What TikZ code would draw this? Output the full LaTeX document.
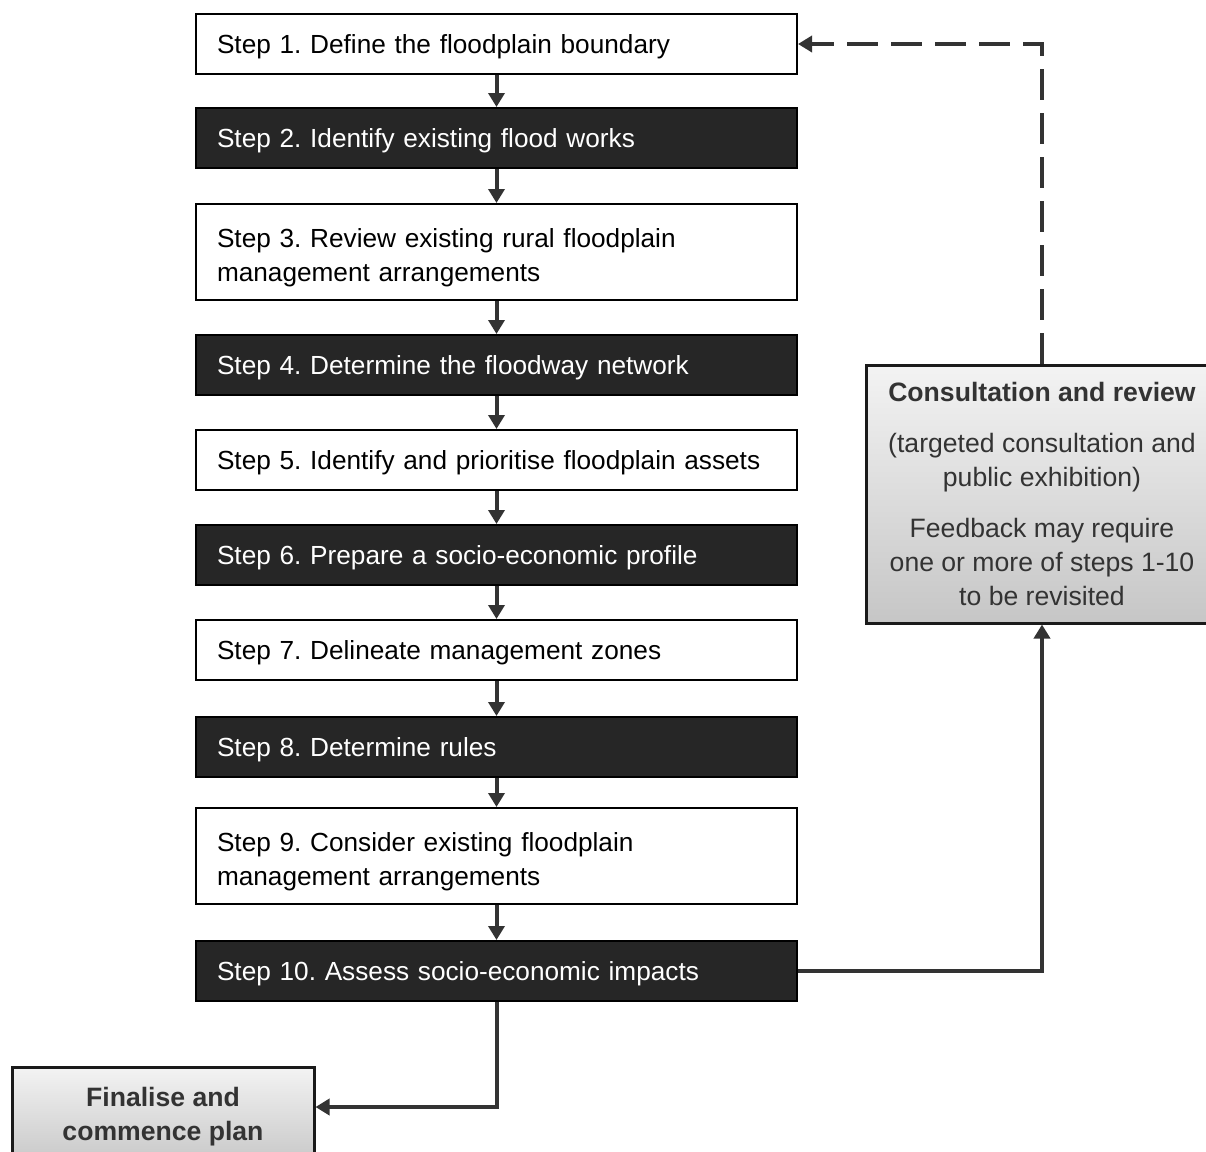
\documentclass[tikz,border=0pt]{standalone}
\usepackage{fontspec}
\setmainfont{Liberation Sans}
\usetikzlibrary{arrows.meta}
\frenchspacing

\definecolor{boxdark}{RGB}{38,38,38}
\definecolor{linegray}{RGB}{51,51,51}
\definecolor{shadetop}{RGB}{243,243,243}
\definecolor{shadebot}{RGB}{198,198,198}

\begin{document}
\begin{tikzpicture}[x=0.5pt,y=-0.5pt]
\useasboundingbox (0,0) rectangle (1206,1152);

% the ten steps
\begin{scope}[every node/.style={draw=black,line width=1pt,text width=279.5pt,
                                 inner xsep=10.5pt,align=left,minimum height=30pt,
                                 text depth=-2pt,
                                 font=\fontsize{13.1}{17}\selectfont},
              lightstep/.style={fill=white,text=black},
              darkstep/.style={fill=boxdark,text=white},
              twoline/.style={minimum height=48pt,text depth=13.8pt}]
    \node[lightstep] (s1)  at (496.5,44)  {Step 1. Define the floodplain boundary};
    \node[darkstep]  (s2)  at (496.5,138) {Step 2. Identify existing flood works};
    \node[lightstep,twoline] (s3) at (496.5,252)
        {Step 3. Review existing rural floodplain\\management arrangements};
    \node[darkstep]  (s4)  at (496.5,365) {Step 4. Determine the floodway network};
    \node[lightstep] (s5)  at (496.5,460) {Step 5. Identify and prioritise floodplain assets};
    \node[darkstep]  (s6)  at (496.5,555) {Step 6. Prepare a socio-economic profile};
    \node[lightstep] (s7)  at (496.5,650) {Step 7. Delineate management zones};
    \node[darkstep]  (s8)  at (496.5,747) {Step 8. Determine rules};
    \node[lightstep,twoline] (s9) at (496.5,856)
        {Step 9. Consider existing floodplain\\management arrangements};
    \node[darkstep]  (s10) at (496.5,971) {Step 10. Assess socio-economic impacts};
\end{scope}

% side boxes
\begin{scope}[every node/.style={draw={rgb,255:red,26;green,26;blue,26},line width=1.5pt,
                                 top color=shadetop,bottom color=shadebot,
                                 text=linegray,align=center,
                                 font=\fontsize{13.3}{17}\selectfont}]
    \node[minimum width=176pt,minimum height=129pt] (consult) at (1042,494)
        {\textbf{Consultation and review}\\[8.5pt]
         (targeted consultation and\\public exhibition)\\[8.5pt]
         Feedback may require\\one or more of steps 1-10\\to be revisited};
    \node[minimum width=151pt,minimum height=50pt,font=\fontsize{13.3}{17}\selectfont\bfseries]
        (final) at (163,1117) {Finalise and\\commence plan};
\end{scope}

\begin{scope}[conn/.style={draw=linegray,line width=2pt,
                           -{Triangle[length=7pt,width=8pt]}}]
    \foreach \a/\b in {s1/s2,s2/s3,s3/s4,s4/s5,s5/s6,s6/s7,s7/s8,s8/s9,s9/s10}
        \draw[conn] (\a) -- (\b);
    \draw[conn] (s10.east) -| (consult.south);
    \draw[conn,dash pattern=on 15.5pt off 6.5pt] (consult.north) |- (s1.east);
    \draw[conn] (s10.south) |- ([yshift=5pt]final.east);
\end{scope}
\end{tikzpicture}
\end{document}
